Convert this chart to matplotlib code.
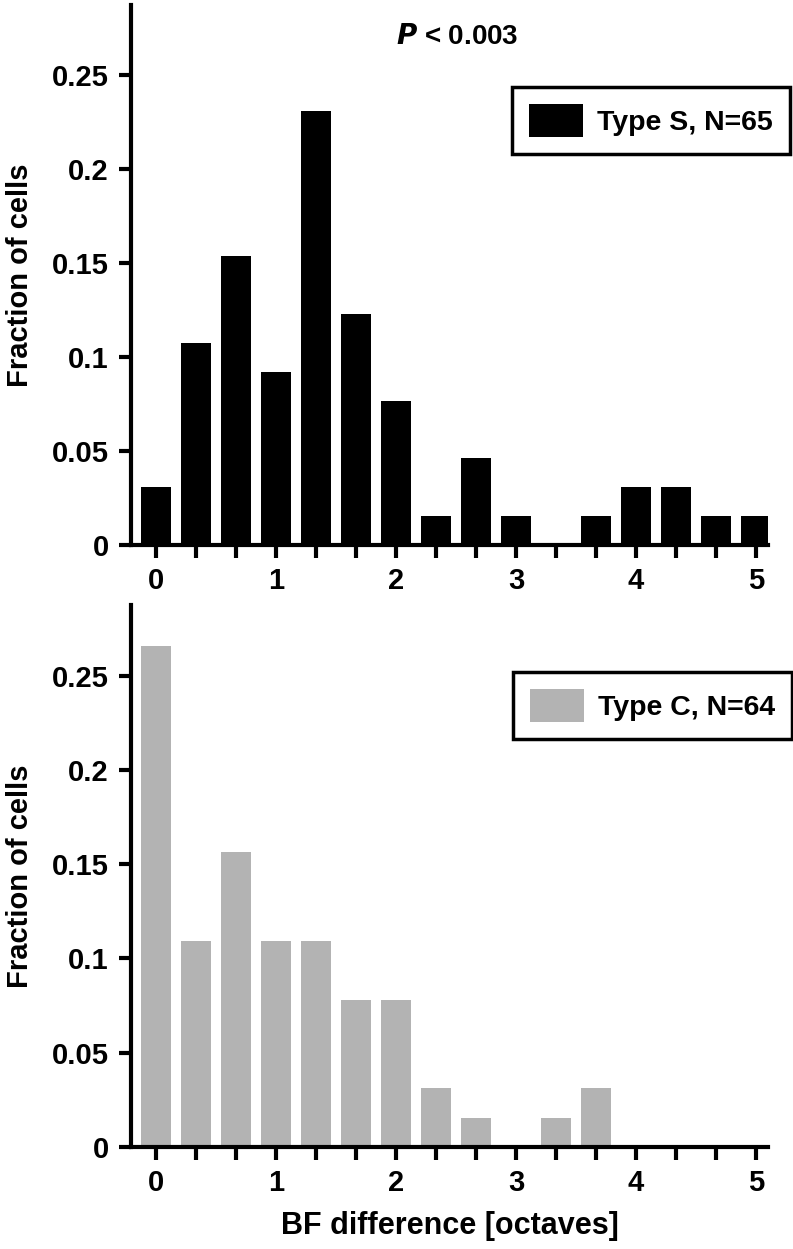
import matplotlib
matplotlib.use('Agg')
import matplotlib.pyplot as plt
import numpy as np

plt.rcParams['font.family'] = ['Liberation Sans Narrow', 'Liberation Sans', 'DejaVu Sans']
plt.rcParams['font.weight'] = 'bold'
plt.rcParams['font.size'] = 21

# bin centres in octaves (1/3 octave bins)
bins = np.arange(16) / 3.0
type_s = [0.0308, 0.1077, 0.1538, 0.0923, 0.2308, 0.1231, 0.0769, 0.0154,
          0.0462, 0.0154, 0.0, 0.0154, 0.0308, 0.0308, 0.0154, 0.0154]
type_c = [0.2656, 0.1094, 0.1563, 0.1094, 0.1094, 0.0781, 0.0781, 0.0313,
          0.0156, 0.0, 0.0156, 0.0313, 0.0, 0.0, 0.0, 0.0]
yticks = [0, 0.05, 0.1, 0.15, 0.2, 0.25]
yticklabels = ['0', '0.05', '0.1', '0.15', '0.2', '0.25']

W, H = 793, 1249
fig = plt.figure(figsize=(W / 100, H / 100), dpi=100)
ax1 = fig.add_axes([131 / W, 1 - 545 / H, (768 - 131) / W, (545 - 5) / H])
ax2 = fig.add_axes([131 / W, 1 - 1147 / H, (768 - 131) / W, (1147 - 605) / H])


def style_axis(ax):
    ax.set_xlim(-0.21, 5.1)
    ax.set_ylim(0, 0.2875)
    for s in ['top', 'right']:
        ax.spines[s].set_visible(False)
    for s in ['left', 'bottom']:
        ax.spines[s].set_linewidth(3)
    ax.set_xticks(bins)
    ax.set_xticklabels([str(int(round(b))) if abs(b - round(b)) < 1e-6 else '' for b in bins])
    ax.set_yticks(yticks)
    ax.set_yticklabels(yticklabels)
    ax.tick_params(width=3, length=9, pad=7, labelsize=21)
    ax.set_ylabel('Fraction of cells', fontsize=21, fontweight='bold', labelpad=13)


def add_legend(ax, anchor):
    leg = ax.legend(loc='upper right', bbox_to_anchor=anchor, borderaxespad=0,
                    fancybox=False, edgecolor='black', handlelength=1.9,
                    handleheight=1.4, borderpad=0.6, handletextpad=0.5,
                    fontsize=20.5)
    leg.get_frame().set_linewidth(2.5)
    leg.get_frame().set_alpha(None)


ax1.bar(bins, type_s, width=0.25, color='black', label='Type S, N=65')
style_axis(ax1)
add_legend(ax1, (1.0345, 0.848))
ax1.text(0.512, 0.94, r'$\bf{\it{P}}$ < 0.003', transform=ax1.transAxes,
         ha='center', va='center', fontsize=20, fontweight='bold')

ax2.bar(bins, type_c, width=0.25, color='#b3b3b3', label='Type C, N=64')
style_axis(ax2)
add_legend(ax2, (1.038, 0.876))
ax2.set_xlabel('BF difference [octaves]', fontsize=22, fontweight='bold', labelpad=10)

fig.savefig('out.png', dpi=100)
